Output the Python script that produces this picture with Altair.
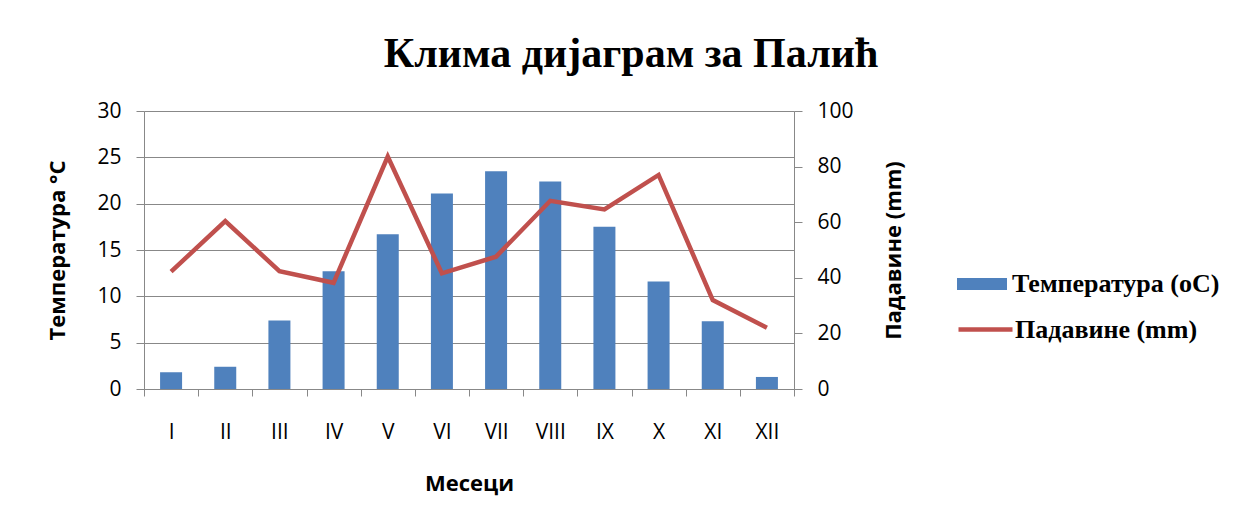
import altair as alt
import pandas as pd

months = ["I", "II", "III", "IV", "V", "VI", "VII", "VIII", "IX", "X", "XI", "XII"]
temperature = [1.8, 2.4, 7.4, 12.7, 16.7, 21.1, 23.5, 22.4, 17.5, 11.6, 7.3, 1.3]
precipitation = [42.2, 60.4, 42.4, 38.2, 83.6, 41.6, 47.6, 67.7, 64.6, 77.0, 32.0, 22.0]
temp_label = "Температура (oC)"
prec_label = "Падавине (mm)"
temp_ticks = [0, 5, 10, 15, 20, 25, 30]
prec_ticks = [0, 20, 40, 60, 80, 100]

df = pd.DataFrame({
    "month": months,
    "temp": temperature,
    "prec": precipitation,
    "ts": [temp_label] * len(months),
    "ps": [prec_label] * len(months),
})

BLUE = "#4F81BD"
RED = "#C0504D"
GRID = "#888888"
SANS = "Open Sans"
SERIF = "Liberation Serif"

x = alt.X(
    "month:N",
    sort=months,
    title="Месеци",
    scale=alt.Scale(paddingInner=0, paddingOuter=0),
    axis=alt.Axis(
        labelAngle=0, tickBand="extent", tickSize=7, tickColor=GRID,
        domainColor=GRID, labelFont=SANS, labelFontSize=21, labelColor="#000000",
        labelPadding=25, titleFont=SANS, titleFontSize=22, titleFontWeight="bold",
        titleColor="#000000", titlePadding=31, grid=False,
    ),
)

bars = alt.Chart(df).mark_bar(size=22).encode(
    x=x,
    y=alt.Y(
        "temp:Q",
        title="Температура °C",
        scale=alt.Scale(domain=[0, 30], nice=False),
        axis=alt.Axis(
            orient="left", values=temp_ticks, grid=True, gridColor=GRID,
            tickSize=8, tickColor=GRID, domainColor=GRID, labelFont=SANS,
            labelFontSize=21, labelColor="#000000", labelPadding=15,
            titleFont=SANS, titleFontSize=22, titleFontWeight="bold",
            titleColor="#000000", titlePadding=27,
        ),
    ),
    color=alt.Color(
        "ts:N",
        scale=alt.Scale(domain=[temp_label], range=[BLUE]),
        legend=alt.Legend(
            title=None, orient="none", legendX=813, legendY=148,
            symbolType="M-1,-0.24H1V0.24H-1Z", symbolSize=2500,
            symbolStrokeWidth=0, labelFont=SERIF, labelFontSize=26,
            labelFontWeight="bold", labelColor="#000000", labelOffset=5,
            labelLimit=400,
        ),
    ),
)

line = alt.Chart(df).mark_line(strokeWidth=4.5).encode(
    x=x,
    y=alt.Y(
        "prec:Q",
        title="Падавине (mm)",
        scale=alt.Scale(domain=[0, 100], nice=False),
        axis=alt.Axis(
            orient="right", values=prec_ticks, grid=False, tickSize=8,
            tickColor=GRID, domainColor=GRID, labelFont=SANS, labelFontSize=21,
            labelColor="#000000", labelPadding=15, titleFont=SANS,
            titleFontSize=22, titleFontWeight="bold", titleColor="#000000",
            titlePadding=52, titleAngle=270,
        ),
    ),
    color=alt.Color(
        "ps:N",
        scale=alt.Scale(domain=[prec_label], range=[RED]),
        legend=alt.Legend(
            title=None, orient="none", legendX=812, legendY=189,
            symbolType="M-1,0H1", symbolSize=2916, symbolStrokeWidth=4.5,
            labelFont=SERIF, labelFontSize=26, labelFontWeight="bold",
            labelColor="#000000", labelOffset=0, labelLimit=400,
        ),
    ),
)

chart = (
    alt.layer(bars, line)
    .resolve_scale(y="independent", color="independent")
    .properties(
        width=650,
        height=278,
        autosize=alt.AutoSizeParams(type="none"),
        padding={"left": 136, "top": 103, "right": 451, "bottom": 130},
        title=alt.TitleParams(
            text="Клима дијаграм за Палић", font=SERIF, fontSize=42,
            fontWeight="bold", color="#000000", anchor="middle", dx=162,
            offset=24,
        ),
    )
    .configure_view(stroke=None)
    .configure(background="white")
)

chart.save("out.html", embed_options={"renderer": "svg", "actions": False})
